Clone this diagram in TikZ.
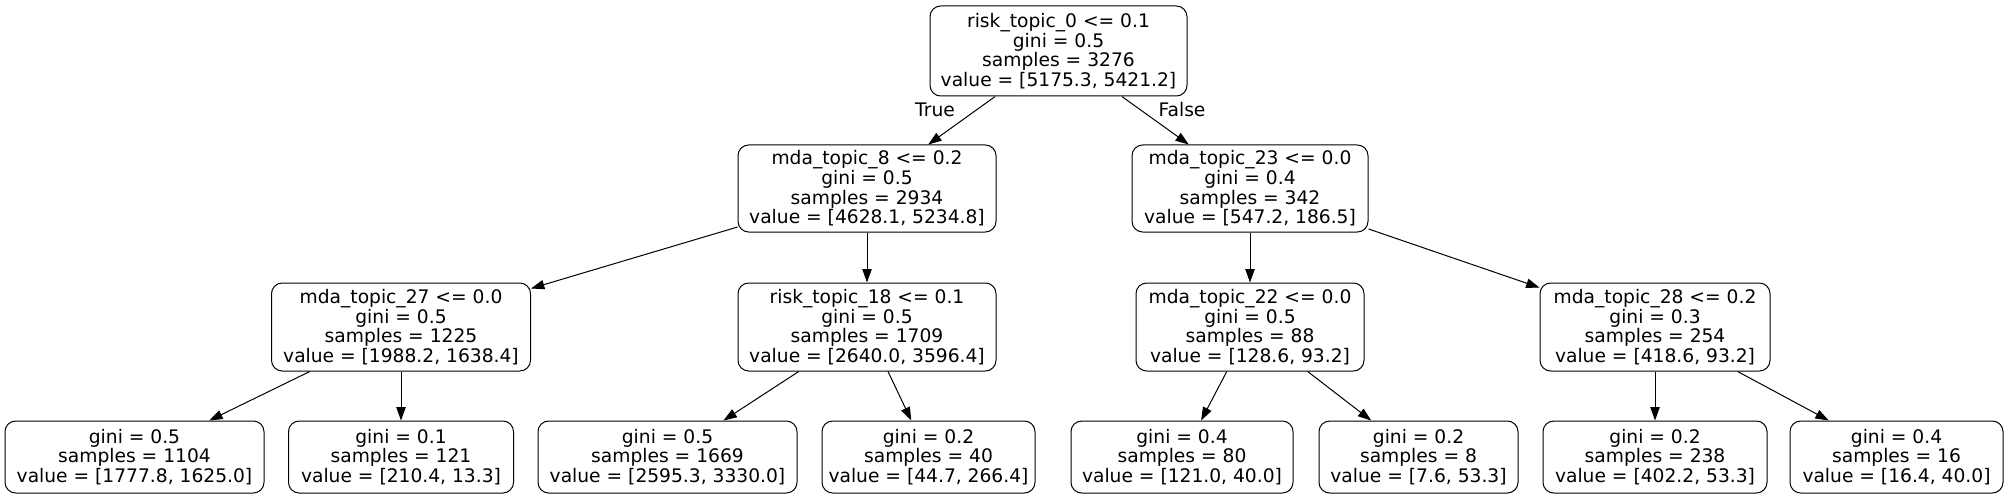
\documentclass[tikz,border=0pt]{standalone}
\usepackage{fontspec}
\setmainfont{DejaVu Sans}
\usetikzlibrary{arrows.meta}
\begin{document}
\begin{tikzpicture}[x=0.75pt,y=-0.75pt,
  box/.style={draw=black, line width=0.75pt, rounded corners=8pt, align=center, inner sep=0pt,
    font=\fontsize{14}{14.7}\selectfont},
  edge/.style={line width=0.75pt, -{Triangle[length=10pt,width=7pt]}},
  lbl/.style={font=\fontsize{14}{14.7}\selectfont, inner sep=0pt}]
\useasboundingbox (0,0) rectangle (2008,499);
% level 1
\node[box, minimum width=192.75pt, minimum height=67.5pt] (root) at (1058.5,51)
  {risk\_topic\_0 <= 0.1\\gini = 0.5\\samples = 3276\\value = [5175.3, 5421.2]};
% level 2
\node[box, minimum width=193.5pt, minimum height=65.25pt] (n8) at (867,188.5)
  {mda\_topic\_8 <= 0.2\\gini = 0.5\\samples = 2934\\value = [4628.1, 5234.8]};
\node[box, minimum width=177pt, minimum height=65.25pt] (n23) at (1250,188.5)
  {mda\_topic\_23 <= 0.0\\gini = 0.4\\samples = 342\\value = [547.2, 186.5]};
% level 3
\node[box, minimum width=194.25pt, minimum height=66pt] (n27) at (401,327)
  {mda\_topic\_27 <= 0.0\\gini = 0.5\\samples = 1225\\value = [1988.2, 1638.4]};
\node[box, minimum width=193.5pt, minimum height=66pt] (r18) at (867,327)
  {risk\_topic\_18 <= 0.1\\gini = 0.5\\samples = 1709\\value = [2640.0, 3596.4]};
\node[box, minimum width=171pt, minimum height=66pt] (n22) at (1250,327)
  {mda\_topic\_22 <= 0.0\\gini = 0.5\\samples = 88\\value = [128.6, 93.2]};
\node[box, minimum width=172.5pt, minimum height=66pt] (n28) at (1655,327)
  {mda\_topic\_28 <= 0.2\\gini = 0.3\\samples = 254\\value = [418.6, 93.2]};
% level 4
\node[box, minimum width=194.25pt, minimum height=54pt] (l1) at (134.5,457)
  {gini = 0.5\\samples = 1104\\value = [1777.8, 1625.0]};
\node[box, minimum width=168.75pt, minimum height=54pt] (l2) at (401,457)
  {gini = 0.1\\samples = 121\\value = [210.4, 13.3]};
\node[box, minimum width=194.25pt, minimum height=54pt] (l3) at (667.5,457)
  {gini = 0.5\\samples = 1669\\value = [2595.3, 3330.0]};
\node[box, minimum width=159.75pt, minimum height=54pt] (l4) at (928.5,457)
  {gini = 0.2\\samples = 40\\value = [44.7, 266.4]};
\node[box, minimum width=166.5pt, minimum height=54pt] (l5) at (1182,457)
  {gini = 0.4\\samples = 80\\value = [121.0, 40.0]};
\node[box, minimum width=149.25pt, minimum height=54pt] (l6) at (1418.5,457)
  {gini = 0.2\\samples = 8\\value = [7.6, 53.3]};
\node[box, minimum width=168pt, minimum height=54pt] (l7) at (1655,457)
  {gini = 0.2\\samples = 238\\value = [402.2, 53.3]};
\node[box, minimum width=159.75pt, minimum height=54pt] (l8) at (1896.5,457)
  {gini = 0.4\\samples = 16\\value = [16.4, 40.0]};
% edges
\draw[edge] (root) -- (n8);
\draw[edge] (root) -- (n23);
\draw[edge] (n8) -- (n27);
\draw[edge] (n8) -- (r18);
\draw[edge] (n23) -- (n22);
\draw[edge] (n23) -- (n28);
\draw[edge] (n27) -- (l1);
\draw[edge] (n27) -- (l2);
\draw[edge] (r18) -- (l3);
\draw[edge] (r18) -- (l4);
\draw[edge] (n22) -- (l5);
\draw[edge] (n22) -- (l6);
\draw[edge] (n28) -- (l7);
\draw[edge] (n28) -- (l8);
% edge labels
\node[lbl] (tlab) at (935,110) {True};
\node[lbl] (flab) at (1182,110) {False};
\end{tikzpicture}
\end{document}
